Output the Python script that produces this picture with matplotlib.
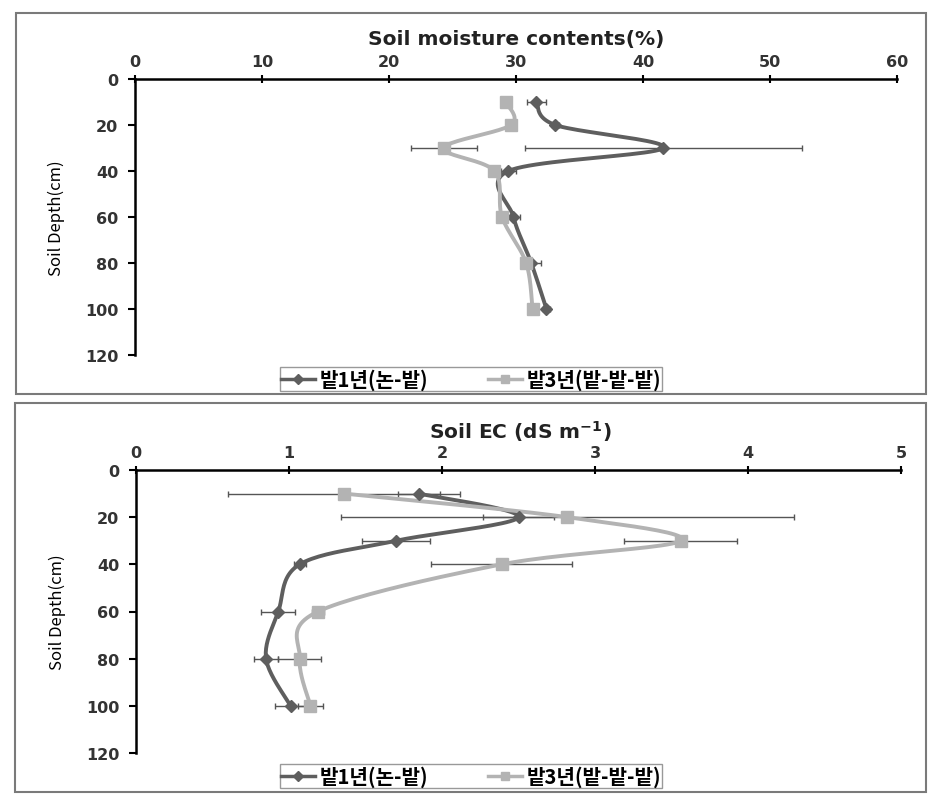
import numpy as np
import matplotlib
matplotlib.use('Agg')
import matplotlib.pyplot as plt
from matplotlib.lines import Line2D
from matplotlib.patches import Rectangle

plt.rcParams['font.family'] = ['DejaVu Sans', 'Noto Sans CJK KR']

# data
depth = [10, 20, 30, 40, 60, 80, 100]
series_names = ['밭1년(논-밭)', '밭3년(밭-밭-밭)']

moist_1yr = [31.6, 33.1, 41.6, 29.4, 29.8, 31.2, 32.4]
moist_1yr_err = [0.75, 0.3, 10.9, 0.6, 0.5, 0.8, 0.3]
moist_3yr = [29.2, 29.6, 24.3, 28.3, 28.9, 30.8, 31.3]
moist_3yr_err = [0.3, 0.3, 2.6, 0.3, 0.3, 0.3, 0.3]

ec_1yr = [1.85, 2.50, 1.70, 1.07, 0.93, 0.85, 1.01]
ec_1yr_err = [0.14, 0.23, 0.22, 0.04, 0.11, 0.08, 0.10]
ec_3yr = [1.36, 2.82, 3.56, 2.39, 1.19, 1.07, 1.14]
ec_3yr_err = [0.76, 1.48, 0.37, 0.46, 0.04, 0.14, 0.08]

dark = '#5e5e5e'
light = '#b3b3b3'
errc = '#555555'


def smooth(xs, ys, n=24):
    # excel-like smoothed line (catmull-rom bezier through the points)
    p = np.column_stack([xs, ys]).astype(float)
    ext = np.vstack([p[0], p, p[-1]])
    out = []
    t = np.linspace(0, 1, n)[:, None]
    for i in range(len(p) - 1):
        b0 = ext[i + 1]
        b3 = ext[i + 2]
        b1 = b0 + (ext[i + 2] - ext[i]) / 6
        b2 = b3 - (ext[i + 3] - ext[i + 1]) / 6
        seg = ((1 - t) ** 3) * b0 + 3 * ((1 - t) ** 2) * t * b1 + 3 * (1 - t) * t ** 2 * b2 + t ** 3 * b3
        out.append(seg if i == 0 else seg[1:])
    seg = np.vstack(out)
    return seg[:, 0], seg[:, 1]


def draw(ax, v1, e1, v2, e2, xmax, step):
    for v, e, c, m, ms in [(v1, e1, dark, 'D', 6), (v2, e2, light, 's', 8)]:
        ax.errorbar(v, depth, xerr=e, fmt='none', ecolor=errc, elinewidth=1,
                    capsize=2.5, capthick=1, zorder=2)
        sx, sy = smooth(v, depth)
        ax.plot(sx, sy, color=c, lw=2.8, zorder=3, solid_capstyle='round')
        ax.plot(v, depth, ls='none', marker=m, ms=ms, color=c, mec=c, zorder=4)

    ax.set_xlim(0, xmax)
    ax.set_ylim(120, 0)
    ax.set_xticks(np.arange(0, xmax + step / 2, step))
    ax.set_yticks(range(0, 121, 20))
    ax.xaxis.tick_top()
    ax.spines['right'].set_visible(False)
    ax.spines['bottom'].set_visible(False)
    ax.spines['top'].set_linewidth(1.8)
    ax.spines['left'].set_linewidth(1.8)
    ax.tick_params(axis='x', direction='inout', length=6, width=1.5, pad=4,
                   labelsize=11.5, labelcolor='#333333')
    ax.tick_params(axis='y', direction='out', length=5, width=1.5, pad=7,
                   labelsize=11.5, labelcolor='#333333')
    for lab in ax.get_xticklabels() + ax.get_yticklabels():
        lab.set_fontweight('bold')
    ax.set_ylabel('Soil Depth(cm)', fontsize=12, family=['Noto Sans CJK KR', 'DejaVu Sans'])
    ax.yaxis.set_label_coords(-0.092, 0.5)


fig = plt.figure(figsize=(9.4, 8.03), dpi=100)
W, H = 940, 803

# panel frames
for (x0, y0, x1, y1) in [(16, 14, 926, 395), (15, 404, 926, 793)]:
    fig.patches.append(Rectangle((x0 / W, 1 - y1 / H), (x1 - x0) / W, (y1 - y0) / H,
                                 transform=fig.transFigure, fill=False,
                                 edgecolor='#7a7a7a', lw=1.5))

ax1 = fig.add_axes([135 / W, 1 - 356 / H, 762 / W, 276 / H])
draw(ax1, moist_1yr, moist_1yr_err, moist_3yr, moist_3yr_err, 60, 10)
fig.text(516 / W, 1 - 40 / H, 'Soil moisture contents(%)', ha='center', va='center',
         fontsize=14.5, fontweight='bold', color='#222222')

ax2 = fig.add_axes([136 / W, 1 - 754 / H, 765 / W, 283 / H])
draw(ax2, ec_1yr, ec_1yr_err, ec_3yr, ec_3yr_err, 5, 1)
fig.text(520 / W, 1 - 432 / H, 'Soil EC (dS m$^{\\mathbf{-1}}$)', ha='center', va='center',
         fontsize=14.5, fontweight='bold', color='#222222')

handles = [Line2D([], [], color=dark, lw=2.5, marker='D', ms=5),
           Line2D([], [], color=light, lw=2.5, marker='s', ms=6)]
for cy in [380, 777]:
    leg = fig.legend(handles, series_names, loc='center', bbox_to_anchor=(471 / W, 1 - cy / H),
                     ncol=2, frameon=True, fancybox=False, edgecolor='#808080',
                     prop={'family': ['Noto Sans CJK KR', 'DejaVu Sans'], 'weight': 'bold', 'size': 14.5},
                     handlelength=1.7, handletextpad=0.2, columnspacing=3.0,
                     borderpad=0.05, borderaxespad=0)
    leg.get_frame().set_linewidth(1.0)

fig.savefig('out.png', dpi=100)
